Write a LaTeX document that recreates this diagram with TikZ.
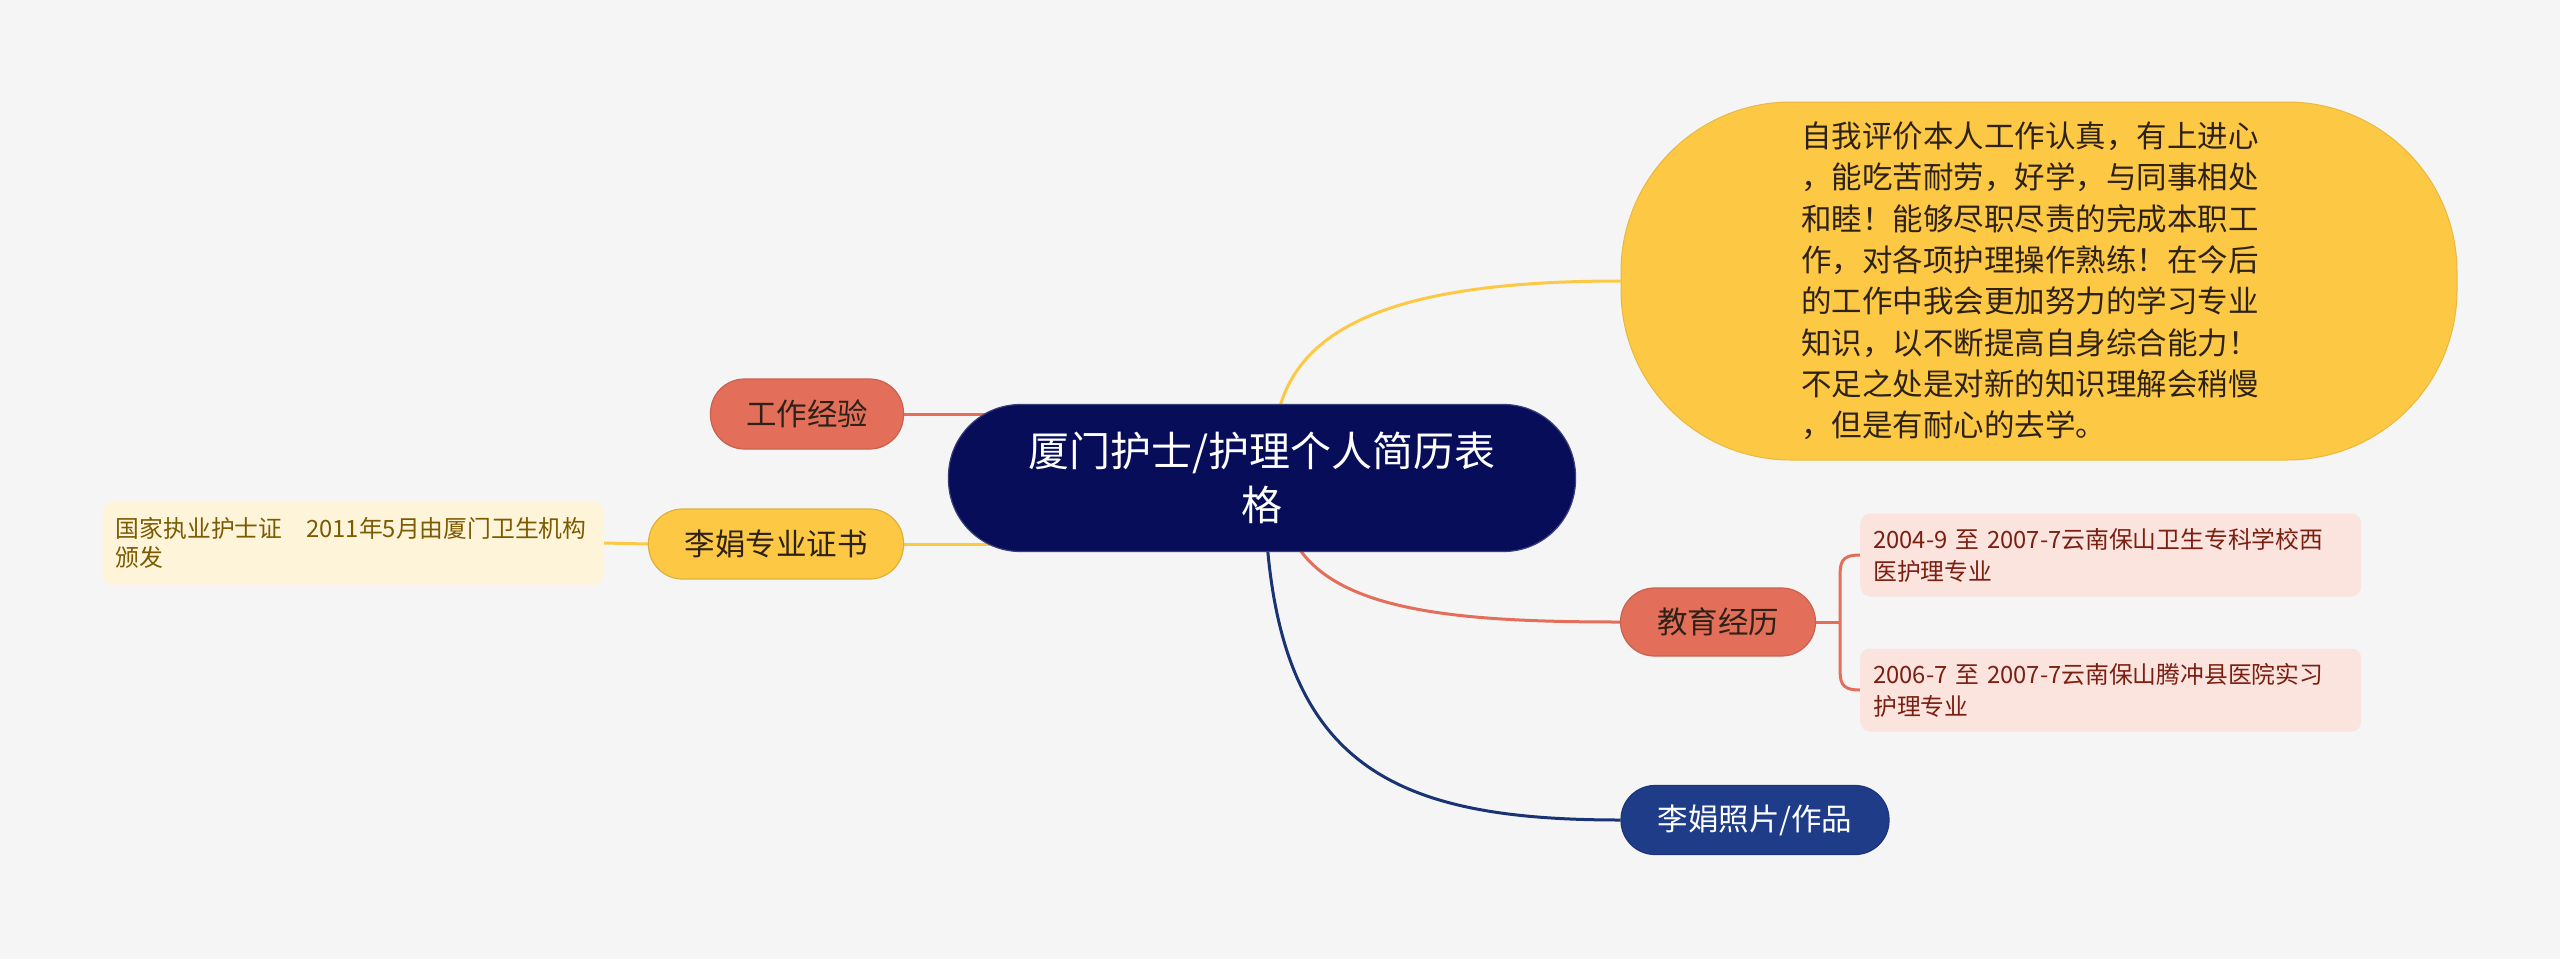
\documentclass[tikz,border=0pt]{standalone}
\usepackage{fontspec}
\setmainfont{Noto Sans CJK SC}
\usetikzlibrary{calc,backgrounds}
\definecolor{bg}{HTML}{F5F5F5}
\definecolor{navy}{HTML}{070D59}
\definecolor{coral}{HTML}{E36F5A}
\definecolor{sun}{HTML}{FDC944}
\definecolor{royal}{HTML}{1F3C88}
\definecolor{leafpink}{HTML}{FBE4DE}
\definecolor{leafpinktext}{HTML}{7B1F12}
\definecolor{leafsun}{HTML}{FEF4DA}
\definecolor{leafsuntext}{HTML}{7C5B00}
\definecolor{darktext}{HTML}{2E2218}
\begin{document}
\begin{tikzpicture}[x=1pt,y=-1pt,
  topic/.style={fill=#1, draw=#1!88!black, line width=1.2pt, rounded corners=34pt,
    minimum height=70pt, inner sep=0pt, font=\fontsize{30.5}{36}\selectfont},
  centralnode/.style={fill=navy, draw=navy!80!white, line width=1.2pt, rounded corners=72pt,
    minimum width=627pt, minimum height=147pt, inner sep=0pt, align=center,
    text=white, font=\fontsize{41}{54}\selectfont},
  bignode/.style={fill=sun, draw=sun!92!black, line width=1pt, rounded corners=170pt,
    minimum width=836pt, minimum height=358pt, inner sep=0pt, align=left, text width=476pt,
    text=darktext, font=\fontsize{30.5}{41.3}\selectfont},
  leaf/.style={fill=#1, rounded corners=10pt, inner xsep=13pt, inner ysep=0pt,
    minimum height=83pt, align=left, text width=475pt,
    font=\fontsize{23.8}{32}\selectfont},
  linkC/.style={draw=coral, line width=3pt},
  linkY/.style={draw=sun, line width=3pt},
  linkB/.style={draw=royal!85!black, line width=3pt}]

\useasboundingbox (0,0) rectangle (2560,959);

\node[centralnode] (c) at (1262,478) {厦门护士/护理个人简历表\\格};

\node[topic=coral, minimum width=193pt, text=darktext] (work) at (807,414) {工作经验};
\node[topic=sun, minimum width=255pt, text=darktext] (cert) at (776,544) {李娟专业证书};
\node[leaf=leafsun, text=leafsuntext, anchor=east, font=\fontsize{23.8}{29}\selectfont] (certleaf) at (604,543)
  {国家执业护士证　2011年5月由厦门卫生机构\\颁发};

\node[bignode] (self) at (2039,281) {自我评价本人工作认真，有上进心\\，能吃苦耐劳，好学，与同事相处\\和睦！能够尽职尽责的完成本职工\\作，对各项护理操作熟练！在今后\\的工作中我会更加努力的学习专业\\知识，以不断提高自身综合能力！\\不足之处是对新的知识理解会稍慢\\，但是有耐心的去学。};

\node[topic=coral, minimum width=195pt, minimum height=68pt, text=darktext] (edu) at (1718,622) {教育经历};
\node[leaf=leafpink, text=leafpinktext, anchor=west] (e1) at (1860,555)
  {2004-9 至 2007-7云南保山卫生专科学校西\\医护理专业};
\node[leaf=leafpink, text=leafpinktext, anchor=west] (e2) at (1860,690)
  {2006-7 至 2007-7云南保山腾冲县医院实习\\护理专业};

\node[topic=royal, minimum width=268pt, minimum height=69pt, text=white] (photo) at (1755,820) {李娟照片/作品};

\begin{scope}[on background layer]
  \fill[bg] (0,0) rectangle (2560,959);
  \draw[linkC] (work.east) -- ($(work.east -| c.west)+(70,0)$);
  \draw[linkY] (cert.east) -- ($(cert.east -| c.west)+(70,0)$);
  \draw[linkY] (certleaf.east) -- (cert.west);
  \draw[linkY] ($(c.north)+(16,10)$) .. controls (1300,320) and (1410,281) .. (self.west);
  \draw[linkC] ($(c.south)+(33,-10)$) .. controls (1335,612) and (1460,622) .. (edu.west);
  \draw[linkB] ($(c.south)+(5,-10)$) .. controls (1285,770) and (1400,820) .. (photo.west);
  \draw[linkC] (edu.east) -- ++(24,0);
  \draw[linkC] (e1.west) .. controls ($(e1.west)+(-20,0)$) and ($(e1.west)+(-20,8)$) .. ($(e1.west)+(-20,25)$)
     -- ($(e2.west)+(-20,-25)$) .. controls ($(e2.west)+(-20,-8)$) and ($(e2.west)+(-20,0)$) .. (e2.west);
\end{scope}
\end{tikzpicture}
\end{document}
